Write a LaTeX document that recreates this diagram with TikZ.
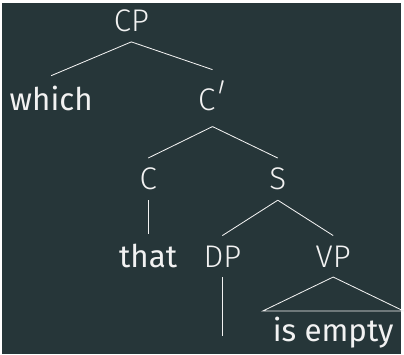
\documentclass[tikz,border=0pt]{standalone}
\usepackage{fontspec}
\setmainfont{Fira Sans}
\newfontfamily\lightfont{Fira Sans Light}
\definecolor{board}{HTML}{263639}
\definecolor{chalk}{HTML}{F2F2F2}
\newcommand{\barprime}{\kern-0.12em\raisebox{-0.18em}{\rotatebox[origin=c]{-14}{\scalebox{1}[1.7]{'}}}}
\begin{document}
\begin{tikzpicture}[
    every node/.style={anchor=base, inner sep=7pt, text=chalk},
    cat/.style={font=\fontsize{22.5}{26}\lightfont},
    word/.style={font=\fontsize{22.5}{26}\selectfont},
    branch/.style={draw=chalk, line width=0.6pt}
  ]
  \fill[board] (0,0) rectangle (10.1,-8.875);
  \node[cat] (cp) at (3.275,-0.725) {CP};
  \node[word] (which) at (1.25,-2.71) {which};
  \node[cat] (cbar) at (5.325,-2.725) {C\barprime};
  \node[cat] (c) at (3.7,-4.725) {C};
  \node[cat] (s) at (6.975,-4.725) {S};
  \node[word] (that) at (3.7,-6.675) {that};
  \node[cat] (dp) at (5.575,-6.675) {DP};
  \node[cat] (vp) at (8.375,-6.675) {VP};
  \node[word, inner ysep=4pt] (pred) at (8.375,-8.55) {is empty};
  \coordinate (trace) at (5.575,-8.425);
  \draw[branch] (cp.south) -- (which.north);
  \draw[branch] (cp.south) -- (cbar.north);
  \draw[branch] (cbar.south) -- (c.north);
  \draw[branch] (cbar.south) -- (s.north);
  \draw[branch] (c.south) -- (that.north);
  \draw[branch] (s.south) -- (dp.north);
  \draw[branch] (s.south) -- (vp.north);
  \draw[branch] (dp.south) -- (trace);
  \draw[branch] (vp.south) -- (pred.north west) -- (pred.north east) -- cycle;
\end{tikzpicture}
\end{document}
